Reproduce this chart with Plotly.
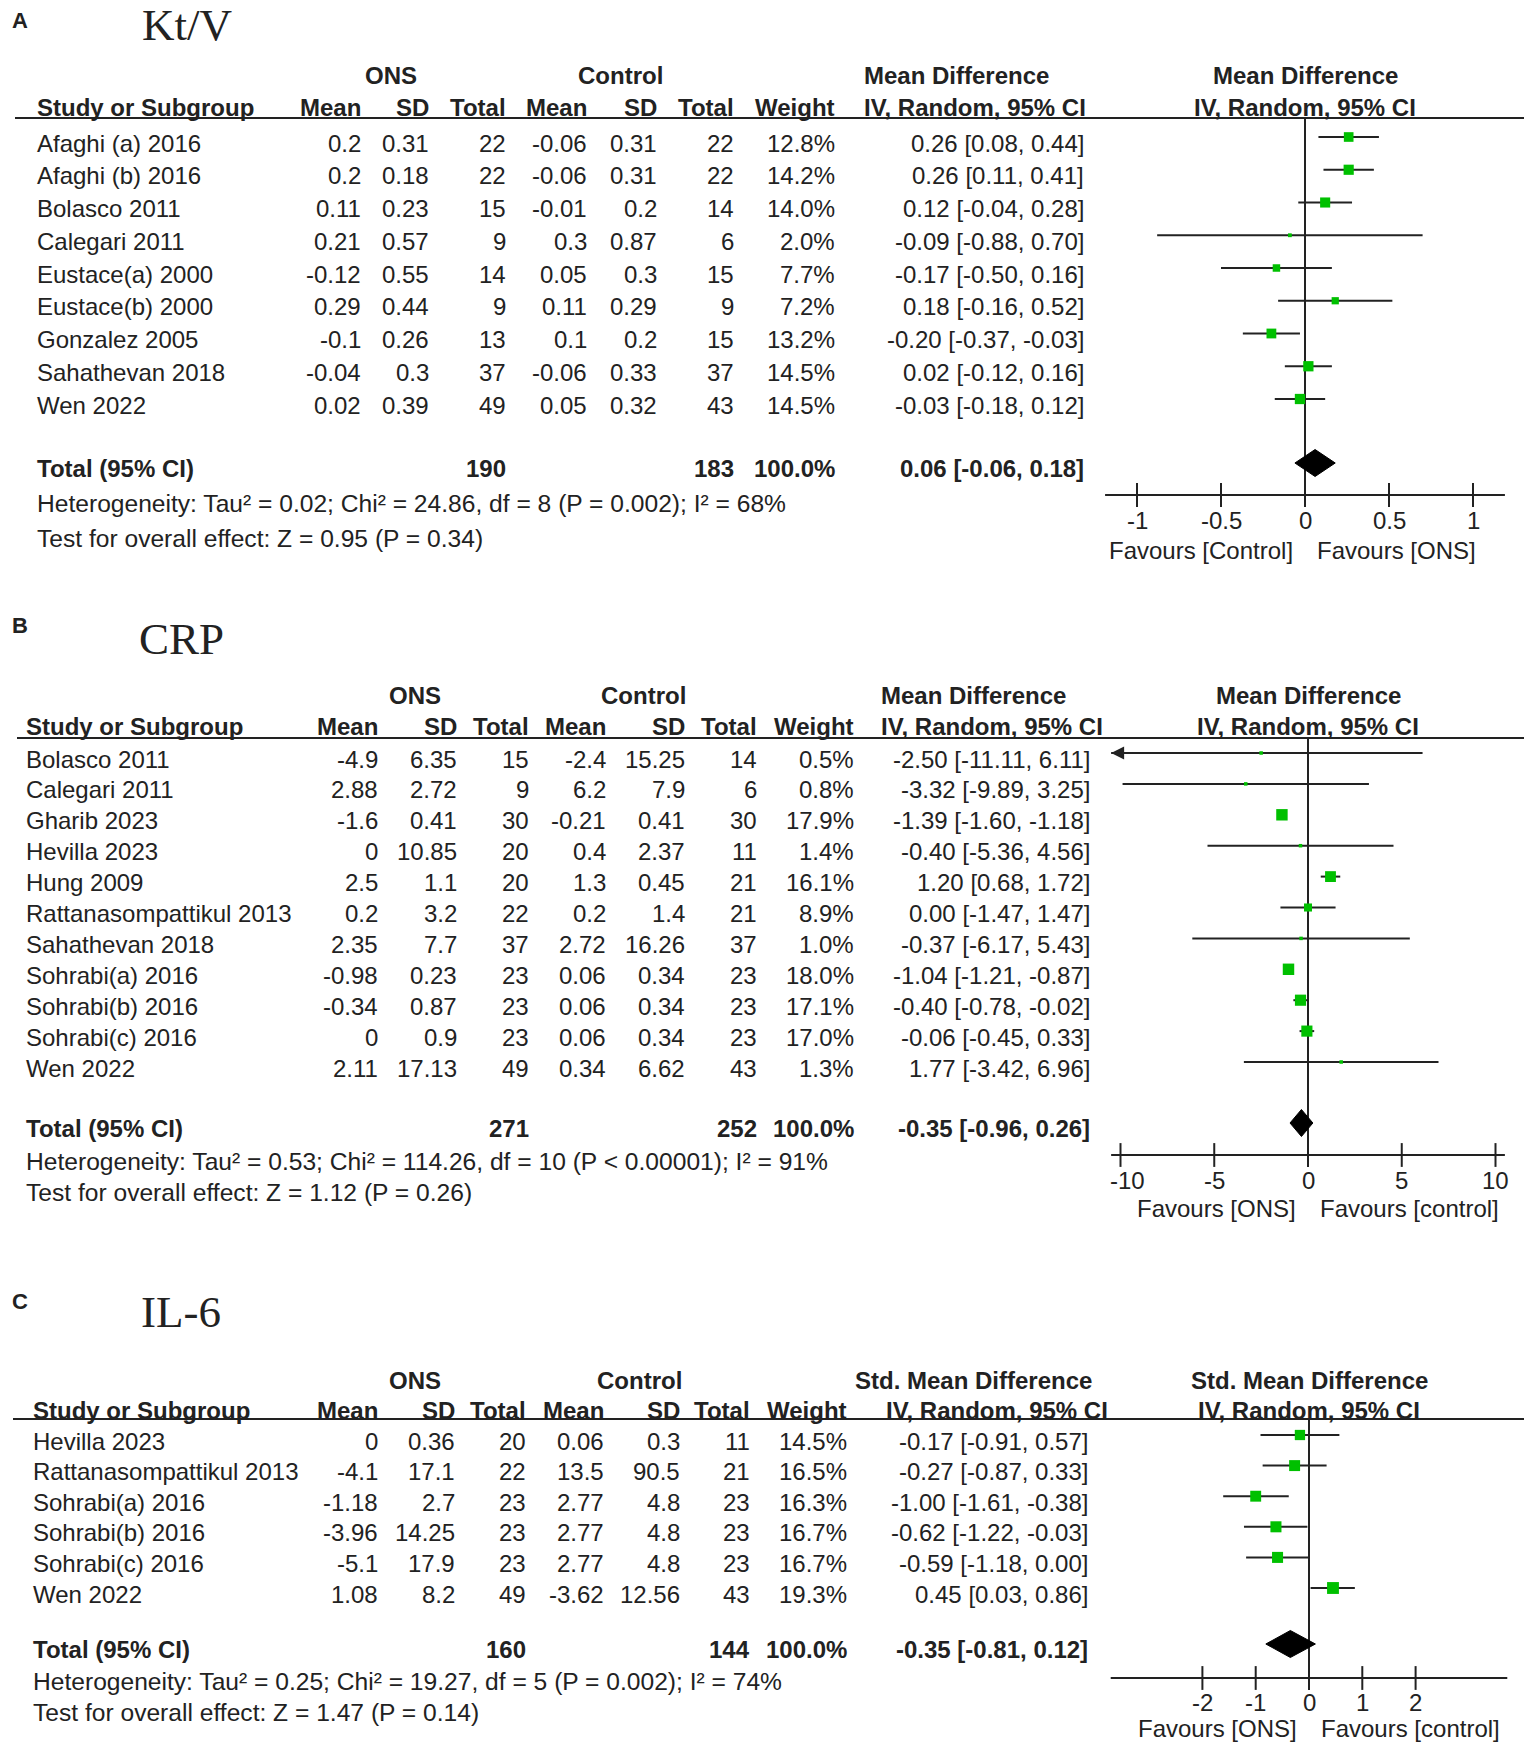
import math
import plotly.graph_objects as go

W, H = 1535, 1748
SANS = "Liberation Sans, Arial, sans-serif"
SERIF = "Liberation Serif, Times New Roman, serif"
INK = "#222222"
GREEN = "#00c000"

# ---------------- Panel A : Kt/V ----------------
A_studies = ["Afaghi (a) 2016", "Afaghi (b) 2016", "Bolasco 2011", "Calegari 2011",
             "Eustace(a) 2000", "Eustace(b) 2000", "Gonzalez 2005", "Sahathevan 2018", "Wen 2022"]
A_ons_mean = [0.2, 0.2, 0.11, 0.21, -0.12, 0.29, -0.1, -0.04, 0.02]
A_ons_sd = [0.31, 0.18, 0.23, 0.57, 0.55, 0.44, 0.26, 0.3, 0.39]
A_ons_n = [22, 22, 15, 9, 14, 9, 13, 37, 49]
A_ctl_mean = [-0.06, -0.06, -0.01, 0.3, 0.05, 0.11, 0.1, -0.06, 0.05]
A_ctl_sd = [0.31, 0.31, 0.2, 0.87, 0.3, 0.29, 0.2, 0.33, 0.32]
A_ctl_n = [22, 22, 14, 6, 15, 9, 15, 37, 43]
A_weight = [12.8, 14.2, 14.0, 2.0, 7.7, 7.2, 13.2, 14.5, 14.5]
A_est = [0.26, 0.26, 0.12, -0.09, -0.17, 0.18, -0.20, 0.02, -0.03]
A_lo = [0.08, 0.11, -0.04, -0.88, -0.50, -0.16, -0.37, -0.12, -0.18]
A_hi = [0.44, 0.41, 0.28, 0.70, 0.16, 0.52, -0.03, 0.16, 0.12]
A_total_n = [190, 183]
A_total_weight = 100.0
A_total = [0.06, -0.06, 0.18]
A_het = "Heterogeneity: Tau² = 0.02; Chi² = 24.86, df = 8 (P = 0.002); I² = 68%"
A_test = "Test for overall effect: Z = 0.95 (P = 0.34)"
A_ticks = [-1, -0.5, 0, 0.5, 1]
A_favours = ["Favours [Control]", "Favours [ONS]"]
A_effect = "Mean Difference"

# ---------------- Panel B : CRP ----------------
B_studies = ["Bolasco 2011", "Calegari 2011", "Gharib 2023", "Hevilla 2023", "Hung 2009",
             "Rattanasompattikul 2013", "Sahathevan 2018", "Sohrabi(a) 2016", "Sohrabi(b) 2016",
             "Sohrabi(c) 2016", "Wen 2022"]
B_ons_mean = [-4.9, 2.88, -1.6, 0, 2.5, 0.2, 2.35, -0.98, -0.34, 0, 2.11]
B_ons_sd = [6.35, 2.72, 0.41, 10.85, 1.1, 3.2, 7.7, 0.23, 0.87, 0.9, 17.13]
B_ons_n = [15, 9, 30, 20, 20, 22, 37, 23, 23, 23, 49]
B_ctl_mean = [-2.4, 6.2, -0.21, 0.4, 1.3, 0.2, 2.72, 0.06, 0.06, 0.06, 0.34]
B_ctl_sd = [15.25, 7.9, 0.41, 2.37, 0.45, 1.4, 16.26, 0.34, 0.34, 0.34, 6.62]
B_ctl_n = [14, 6, 30, 11, 21, 21, 37, 23, 23, 23, 43]
B_weight = [0.5, 0.8, 17.9, 1.4, 16.1, 8.9, 1.0, 18.0, 17.1, 17.0, 1.3]
B_est = [-2.50, -3.32, -1.39, -0.40, 1.20, 0.00, -0.37, -1.04, -0.40, -0.06, 1.77]
B_lo = [-11.11, -9.89, -1.60, -5.36, 0.68, -1.47, -6.17, -1.21, -0.78, -0.45, -3.42]
B_hi = [6.11, 3.25, -1.18, 4.56, 1.72, 1.47, 5.43, -0.87, -0.02, 0.33, 6.96]
B_total_n = [271, 252]
B_total_weight = 100.0
B_total = [-0.35, -0.96, 0.26]
B_het = "Heterogeneity: Tau² = 0.53; Chi² = 114.26, df = 10 (P < 0.00001); I² = 91%"
B_test = "Test for overall effect: Z = 1.12 (P = 0.26)"
B_ticks = [-10, -5, 0, 5, 10]
B_favours = ["Favours [ONS]", "Favours [control]"]
B_effect = "Mean Difference"

# ---------------- Panel C : IL-6 ----------------
C_studies = ["Hevilla 2023", "Rattanasompattikul 2013", "Sohrabi(a) 2016", "Sohrabi(b) 2016",
             "Sohrabi(c) 2016", "Wen 2022"]
C_ons_mean = [0, -4.1, -1.18, -3.96, -5.1, 1.08]
C_ons_sd = [0.36, 17.1, 2.7, 14.25, 17.9, 8.2]
C_ons_n = [20, 22, 23, 23, 23, 49]
C_ctl_mean = [0.06, 13.5, 2.77, 2.77, 2.77, -3.62]
C_ctl_sd = [0.3, 90.5, 4.8, 4.8, 4.8, 12.56]
C_ctl_n = [11, 21, 23, 23, 23, 43]
C_weight = [14.5, 16.5, 16.3, 16.7, 16.7, 19.3]
C_est = [-0.17, -0.27, -1.00, -0.62, -0.59, 0.45]
C_lo = [-0.91, -0.87, -1.61, -1.22, -1.18, 0.03]
C_hi = [0.57, 0.33, -0.38, -0.03, 0.00, 0.86]
C_total_n = [160, 144]
C_total_weight = 100.0
C_total = [-0.35, -0.81, 0.12]
C_het = "Heterogeneity: Tau² = 0.25; Chi² = 19.27, df = 5 (P = 0.002); I² = 74%"
C_test = "Test for overall effect: Z = 1.47 (P = 0.14)"
C_ticks = [-2, -1, 0, 1, 2]
C_favours = ["Favours [ONS]", "Favours [control]"]
C_effect = "Std. Mean Difference"

panel_letters = ["A", "B", "C"]
panel_titles = ["Kt/V", "CRP", "IL-6"]
group_labels = ["ONS", "Control"]
col_headers = ["Mean", "SD", "Total", "Mean", "SD", "Total", "Weight"]
study_header = "Study or Subgroup"
method_label = "IV, Random, 95% CI"
total_label = "Total (95% CI)"

data = [
    dict(studies=A_studies, ons_mean=A_ons_mean, ons_sd=A_ons_sd, ons_n=A_ons_n,
         ctl_mean=A_ctl_mean, ctl_sd=A_ctl_sd, ctl_n=A_ctl_n, weight=A_weight,
         est=A_est, lo=A_lo, hi=A_hi, total_n=A_total_n, total_w=A_total_weight, total=A_total,
         het=A_het, test=A_test, ticks=A_ticks, favours=A_favours, effect=A_effect),
    dict(studies=B_studies, ons_mean=B_ons_mean, ons_sd=B_ons_sd, ons_n=B_ons_n,
         ctl_mean=B_ctl_mean, ctl_sd=B_ctl_sd, ctl_n=B_ctl_n, weight=B_weight,
         est=B_est, lo=B_lo, hi=B_hi, total_n=B_total_n, total_w=B_total_weight, total=B_total,
         het=B_het, test=B_test, ticks=B_ticks, favours=B_favours, effect=B_effect),
    dict(studies=C_studies, ons_mean=C_ons_mean, ons_sd=C_ons_sd, ons_n=C_ons_n,
         ctl_mean=C_ctl_mean, ctl_sd=C_ctl_sd, ctl_n=C_ctl_n, weight=C_weight,
         est=C_est, lo=C_lo, hi=C_hi, total_n=C_total_n, total_w=C_total_weight, total=C_total,
         het=C_het, test=C_test, ticks=C_ticks, favours=C_favours, effect=C_effect),
]

# ---------------- geometry (pixels) ----------------
geo = [
    dict(letter_y=20, title_x=142, title_y=25, row0=143, step=32.75, h1=75, h2=107, ul=118,
         ul_x=(15, 1524), total=468, het=503, test=538, axis_y=495, tick_y=520, fav_y=550,
         name_x=37, cols=[361, 429, 506, 587, 657, 734, 835, 1084], grp_c=[391, 620],
         eff_x=(864, 864), zero=1305, ppu=168.0, ext=(-1.19, 1.19), first_tick_shift=0),
    dict(letter_y=625, title_x=139, title_y=639, row0=759, step=30.9, h1=695, h2=726, ul=738,
         ul_x=(17, 1524), total=1128, het=1161, test=1192, axis_y=1155, tick_y=1180, fav_y=1208,
         name_x=26, cols=[378, 457, 529, 606, 685, 757, 854, 1090], grp_c=[415, 643],
         eff_x=(881, 881), zero=1308, ppu=18.75, ext=(-10.5, 10.5), first_tick_shift=7),
    dict(letter_y=1301, title_x=141, title_y=1312, row0=1441, step=30.6, h1=1380, h2=1410, ul=1419,
         ul_x=(13, 1524), total=1649, het=1681, test=1712, axis_y=1678, tick_y=1702, fav_y=1728,
         name_x=33, cols=[378, 455, 526, 604, 680, 750, 847, 1088], grp_c=[415, 639],
         eff_x=(855, 886), zero=1309, ppu=53.3, ext=(-3.72, 3.72), first_tick_shift=0),
]

fig = go.Figure()
annotations = []
shapes = []


def fmt(v):
    return f"{v:g}"


def ci(e, l, h):
    return f"{e:.2f} [{l:.2f}, {h:.2f}]"


def txt(s, x, y, xref, yref, anchor="right", bold=False, size=24, family=SANS, xshift=0):
    annotations.append(dict(text=(f"<b>{s}</b>" if bold else s), x=x, y=y, xref=xref, yref=yref,
                            xanchor=anchor, yanchor="middle", showarrow=False, xshift=xshift,
                            borderpad=0, borderwidth=0,
                            font=dict(family=family, size=size, color=INK)))


layout_axes = {}
layout_axes["xaxis"] = dict(range=[0, W], domain=[0, 1], visible=False, fixedrange=True, anchor="y")
layout_axes["yaxis"] = dict(range=[H, 0], domain=[0, 1], visible=False, fixedrange=True, anchor="x")

marker_traces = []

for k, (d, g) in enumerate(zip(data, geo)):
    xf = f"x{k + 2}"
    yr = f"y{k + 2}"
    r0, st = g["row0"], g["step"]

    def R(p):
        return (p - r0) / st

    layout_axes[f"xaxis{k + 2}"] = dict(range=[-g["zero"] / g["ppu"], (W - g["zero"]) / g["ppu"]],
                                        domain=[0, 1], anchor=yr, visible=False, fixedrange=True)
    layout_axes[f"yaxis{k + 2}"] = dict(range=[(H - r0) / st, -r0 / st], domain=[0, 1],
                                        anchor=xf, visible=False, fixedrange=True)

    # panel letter and title
    txt(panel_letters[k], 12, R(g["letter_y"]), "x", yr, anchor="left", bold=True, size=22)
    txt(panel_titles[k], g["title_x"], R(g["title_y"]), "x", yr, anchor="left", size=45, family=SERIF)

    # header
    cols = g["cols"]
    txt(group_labels[0], g["grp_c"][0], R(g["h1"]), "x", yr, anchor="center", bold=True)
    txt(group_labels[1], g["grp_c"][1], R(g["h1"]), "x", yr, anchor="center", bold=True)
    txt(d["effect"], g["eff_x"][0], R(g["h1"]), "x", yr, anchor="left", bold=True)
    txt(method_label, g["eff_x"][1], R(g["h2"]), "x", yr, anchor="left", bold=True)
    txt(d["effect"], 0, R(g["h1"]), xf, yr, anchor="center", bold=True)
    txt(method_label, 0, R(g["h2"]), xf, yr, anchor="center", bold=True)
    txt(study_header, g["name_x"], R(g["h2"]), "x", yr, anchor="left", bold=True)
    for c, lab in zip(cols[:7], col_headers):
        txt(lab, c, R(g["h2"]), "x", yr, anchor="right", bold=True)
    shapes.append(dict(type="line", xref="x", yref=yr, x0=g["ul_x"][0], x1=g["ul_x"][1],
                       y0=R(g["ul"]), y1=R(g["ul"]), line=dict(color=INK, width=2)))

    # study rows
    n = len(d["studies"])
    for i in range(n):
        txt(d["studies"][i], g["name_x"], i, "x", yr, anchor="left")
        vals = [fmt(d["ons_mean"][i]), fmt(d["ons_sd"][i]), str(d["ons_n"][i]),
                fmt(d["ctl_mean"][i]), fmt(d["ctl_sd"][i]), str(d["ctl_n"][i]),
                f"{d['weight'][i]:.1f}%", ci(d["est"][i], d["lo"][i], d["hi"][i])]
        for c, v in zip(cols, vals):
            txt(v, c, i, "x", yr, anchor="right")

    # total row
    yt = R(g["total"])
    txt(total_label, g["name_x"], yt, "x", yr, anchor="left", bold=True)
    txt(str(d["total_n"][0]), cols[2], yt, "x", yr, bold=True)
    txt(str(d["total_n"][1]), cols[5], yt, "x", yr, bold=True)
    txt(f"{d['total_w']:.1f}%", cols[6], yt, "x", yr, bold=True)
    txt(ci(*d["total"]), cols[7], yt, "x", yr, bold=True)
    txt(d["het"], g["name_x"], R(g["het"]), "x", yr, anchor="left", size=24.6)
    txt(d["test"], g["name_x"], R(g["test"]), "x", yr, anchor="left", size=24.6)

    # forest plot
    lo_ext, hi_ext = g["ext"]
    ym = [i - 6 / st for i in range(n)]
    lx, ly = [], []
    for i in range(n):
        a = max(d["lo"][i], lo_ext)
        b = min(d["hi"][i], hi_ext)
        lx += [a, b, None]
        ly += [ym[i], ym[i], None]
        if d["lo"][i] < lo_ext:
            annotations.append(dict(x=lo_ext, y=ym[i], ax=lo_ext + 1.2, ay=ym[i], xref=xf, yref=yr,
                                    axref=xf, ayref=yr, showarrow=True, arrowhead=2, arrowsize=1.3,
                                    arrowwidth=2, arrowcolor=INK, text=""))
        if d["hi"][i] > hi_ext:
            annotations.append(dict(x=hi_ext, y=ym[i], ax=hi_ext - 1.2, ay=ym[i], xref=xf, yref=yr,
                                    axref=xf, ayref=yr, showarrow=True, arrowhead=2, arrowsize=1.3,
                                    arrowwidth=2, arrowcolor=INK, text=""))
    common = dict(xaxis=xf, yaxis=yr, showlegend=False, cliponaxis=False)
    # zero line
    fig.add_trace(go.Scatter(x=[0, 0], y=[R(g["ul"]), R(g["axis_y"])], mode="lines",
                             line=dict(color=INK, width=2), hoverinfo="skip", **common))
    # confidence intervals
    fig.add_trace(go.Scatter(x=lx, y=ly, mode="lines", line=dict(color=INK, width=2),
                             hoverinfo="skip", **common))
    # pooled diamond
    e, l, h = d["total"]
    yd = yt - 5 / st
    hh = 13.5 / st
    fig.add_trace(go.Scatter(x=[l, e, h, e, l], y=[yd, yd - hh, yd, yd + hh, yd], mode="lines",
                             fill="toself", fillcolor="black", line=dict(color="black", width=1),
                             hoverinfo="skip", **common))
    # axis line and ticks
    ya = R(g["axis_y"])
    fig.add_trace(go.Scatter(x=[lo_ext, hi_ext], y=[ya, ya], mode="lines",
                             line=dict(color=INK, width=2), hoverinfo="skip", **common))
    fig.add_trace(go.Scatter(x=d["ticks"], y=[ya] * len(d["ticks"]), mode="markers",
                             marker=dict(symbol="line-ns", size=17, line=dict(color=INK, width=2)),
                             hoverinfo="skip", **common))
    for j, t in enumerate(d["ticks"]):
        txt(fmt(t), t, R(g["tick_y"]), xf, yr, anchor="center",
            xshift=(g["first_tick_shift"] if j == 0 else 0))
    txt(d["favours"][0], 0, R(g["fav_y"]), xf, yr, anchor="right", xshift=-12)
    txt(d["favours"][1], 0, R(g["fav_y"]), xf, yr, anchor="left", xshift=12)
    # study estimates (drawn last so they sit on top of the CI lines)
    sizes = [max(3.5, 2.7 * math.sqrt(w)) for w in d["weight"]]
    marker_traces.append(go.Scatter(x=d["est"], y=ym, mode="markers",
                                    marker=dict(symbol="square", size=sizes, color=GREEN,
                                                opacity=1, line=dict(width=0)),
                                    text=d["studies"], hovertemplate="%{text}: %{x}<extra></extra>",
                                    **common))

for tr in marker_traces:
    fig.add_trace(tr)

fig.update_layout(width=W, height=H, autosize=False, margin=dict(l=0, r=0, t=0, b=0),
                  paper_bgcolor="white", plot_bgcolor="rgba(0,0,0,0)", annotations=annotations,
                  shapes=shapes, showlegend=False, **layout_axes)

fig.write_html("out.html", config={"displayModeBar": False},
               post_script="document.body.style.margin='0';")
